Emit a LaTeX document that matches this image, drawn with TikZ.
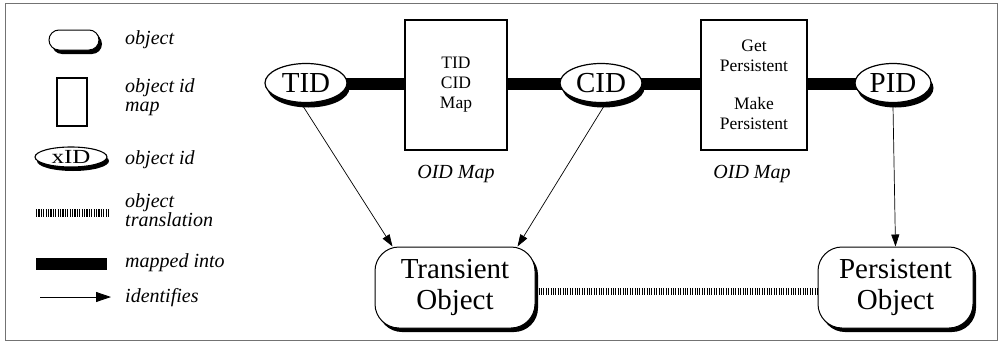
\documentclass[tikz,border=0pt]{standalone}
\usepackage{fontspec}
\setmainfont{Liberation Serif}
\usetikzlibrary{shapes.geometric,shadows,arrows.meta,backgrounds}
\begin{document}
\begin{tikzpicture}[x=1pt,y=-1pt,
  bigfont/.style={font=\fontsize{29}{31}\selectfont},
  boxfont/.style={font=\fontsize{17.5}{20}\selectfont},
  legfont/.style={font=\itshape\fontsize{20}{18.5}\selectfont},
  blackshadow/.style 2 args={drop shadow={shadow xshift=#1, shadow yshift=#2, fill=black, opacity=1}},
  idnode/.style={ellipse, draw, line width=1.2pt, fill=white, inner sep=0pt,
    minimum width=82pt, minimum height=39pt, bigfont, blackshadow={2.5pt}{-5pt}},
  objnode/.style={rectangle, rounded corners=24pt, draw, line width=1pt, fill=white,
    align=center, bigfont, inner sep=0pt, blackshadow={3pt}{-4pt}},
  mapnode/.style={rectangle, draw, line width=1.3pt, fill=white, align=center,
    boxfont, inner sep=0pt},
  legtext/.style={legfont, anchor=west, align=left, inner sep=0pt},
  labtext/.style={legfont, anchor=base, inner sep=0pt},
  mapbar/.style={line width=12pt, black},
  transline/.style={line width=7.5pt, dash pattern=on 1.1pt off 1.3pt},
  idarrow/.style={line width=0.7pt, -{Triangle[length=12pt,width=8pt]}}
]
\useasboundingbox (0,0) rectangle (1002,343);
\draw[black!55, line width=1pt] (5,3) rectangle (997,340);

% ---- legend ----
\node[objnode, rounded corners=10pt, minimum width=50pt, minimum height=20pt,
  blackshadow={1.5pt}{-1.5pt}] (legobj) at (74,40) {};
\node[legtext] (lt1) at (125,40) {object};

\node[mapnode, minimum width=30pt, minimum height=48pt] (legmap) at (72,102) {};
\node[legtext] (lt2) at (125,97) {object id\\map};

\node[ellipse, draw, line width=1.1pt, fill=white, inner sep=0pt, minimum width=72pt,
  minimum height=20pt, blackshadow={2pt}{-4pt}, font=\fontsize{20}{20}\selectfont]
  (legid) at (71,157) {\scalebox{1.25}[1]{xID}};
\node[legtext] (lt3) at (125,160) {object id};

\coordinate (tr1) at (36,213);
\coordinate (tr2) at (109,213);
\draw[transline] (tr1) -- (tr2);
\node[legtext] (lt4) at (125,210) {object\\translation};

\coordinate (mb1) at (36,264);
\coordinate (mb2) at (107,264);
\draw[mapbar] (mb1) -- (mb2);
\node[legtext] (lt5) at (125,263) {mapped into};

\coordinate (ar1) at (40,297);
\coordinate (ar2) at (111,297);
\draw[line width=0.8pt, -{Triangle[length=15pt,width=10pt]}] (ar1) -- (ar2);
\node[legtext] (lt6) at (125,298) {identifies};

% ---- main diagram ----
\node[idnode] (TID) at (306,83) {TID};
\node[idnode] (CID) at (601,83) {CID};
\node[idnode, minimum width=76pt] (PID) at (893,83) {PID};

\node[mapnode, minimum width=102pt, minimum height=130pt] (map1) at (456,85) {TID\\CID\\Map};
\node[mapnode, minimum width=106pt, minimum height=130pt] (map2) at (754,85)
  {Get\\Persistent\\[18pt]Make\\Persistent};

\node[labtext] (lab1) at (456,178) {OID Map};
\node[labtext] (lab2) at (752,178) {OID Map};

\node[objnode, minimum width=160pt, minimum height=81pt] (Trans) at (455,287.5) {Transient\\Object};
\node[objnode, minimum width=155pt, minimum height=81pt] (Pers) at (895.5,287.5) {Persistent\\Object};

\begin{scope}[on background layer]
  \draw[mapbar] ([yshift=-1pt]TID.center) -- ([yshift=-1pt]PID.center);
\end{scope}

\draw[transline] ([xshift=3pt,yshift=-4pt]Trans.east) -- ([yshift=-4pt]Pers.west);

\draw[idarrow] ([xshift=-3pt,yshift=-3pt]TID.south) -- ([xshift=18pt]Trans.north west);
\draw[idarrow] ([xshift=3pt,yshift=-3pt]CID.south) -- ([xshift=-18pt]Trans.north east);
\draw[idarrow] ([yshift=-3pt]PID.south) -- (Pers.north);
\end{tikzpicture}
\end{document}
